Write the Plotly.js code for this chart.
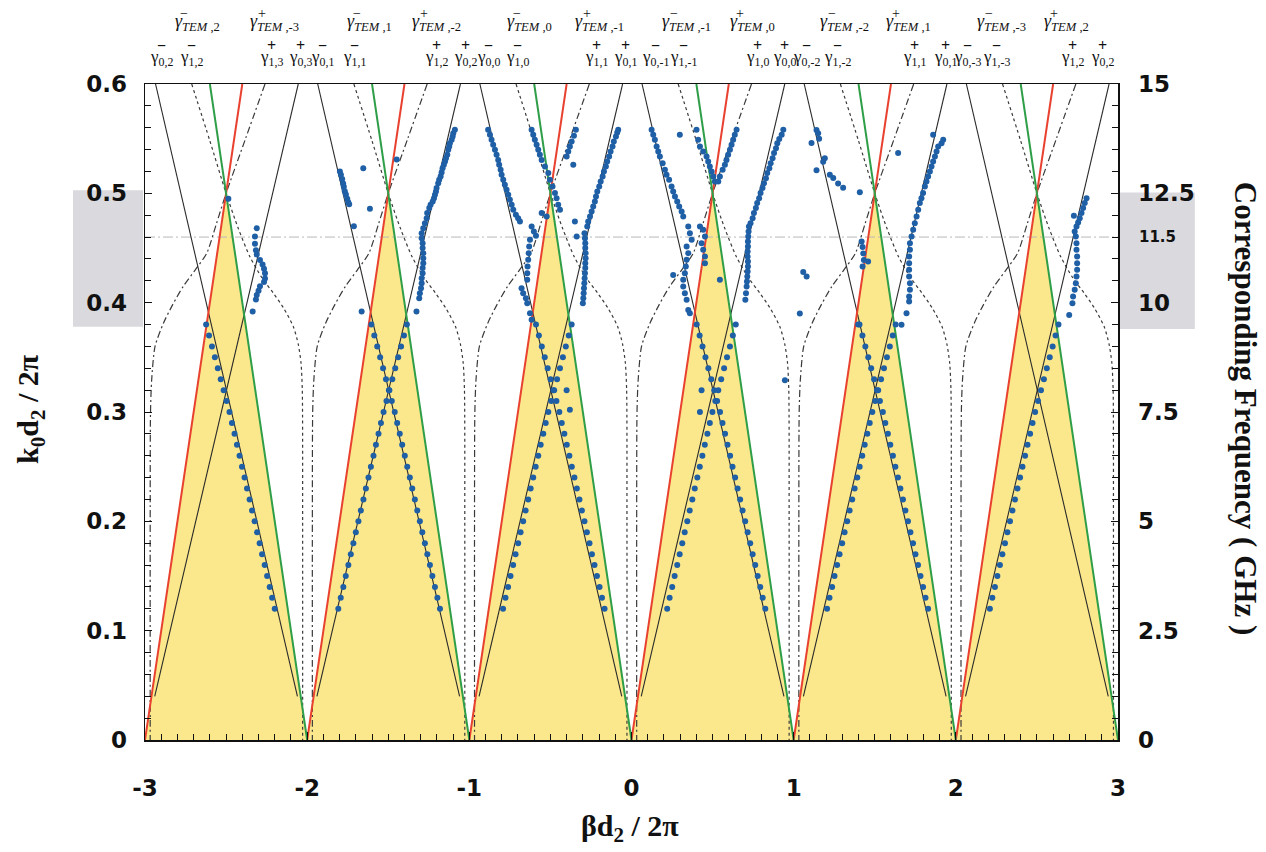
<!DOCTYPE html>
<html><head><meta charset="utf-8">
<script src="https://cdn.plot.ly/plotly-3.0.1.min.js"></script>
<style>html,body{margin:0;padding:0;background:#fff}#chart{width:1266px;height:852px}</style>
</head><body><div id="chart"></div>
<script>
// ---------------- axes / ticks ----------------
const xTicks = [-3,-2,-1,0,1,2,3];
const xTickText = ['-3','-2','-1','0','1','2','3'];
const yTicks = [0,0.1,0.2,0.3,0.4,0.5,0.6];
const yTickText = ['0','0.1','0.2','0.3','0.4','0.5','0.6'];
const fTicks = [0,2.5,5,7.5,10,12.5,15];
const fTickText = ['0','2.5','5','7.5','10','12.5','15'];
const refFreqGHz = 11.5;           // dash-dot reference level
const bandGHz = [9.45, 12.57];     // grey band on both sides

// ---------------- theoretical lines ----------------
const periodStart = [-3,-2,-1,0,1,2];        // Brillouin period starts (TEM light lines)
const bandCentres = [-2.5,-1.5,-0.5,0.5,1.5,2.5];
const lightTop = 0.6;
// gamma_0 (solid black) end points, offsets from period start
const g0Rise = {x0:0.06, y0:0.04, x1:0.945, y1:0.6};
const g0Desc = {x0:0.94, y0:0.04, x1:0.065, y1:0.6};
// gamma_1 curves (dashed), offsets from band centre
const g1DescDx = [-0.212,-0.1,0,0.075,0.147,0.22,0.29,0.355,0.415,0.445,0.462,0.470,0.472,0.472];
const g1DescY  = [0.6,0.548,0.5,0.468,0.442,0.423,0.409,0.395,0.378,0.362,0.345,0.32,0.2,0.0];
const g1RiseDx = [0.24,0.12,0,-0.06,-0.12,-0.19,-0.264,-0.33,-0.387,-0.438,-0.459,-0.466,-0.468,-0.468];
const g1RiseY  = [0.6,0.55,0.5,0.472,0.445,0.43,0.415,0.398,0.381,0.36,0.329,0.3,0.2,0.0];

// ---------------- measured points ----------------
const yLow = [0.12,0.13,0.14,0.15,0.16,0.17,0.18,0.19,0.20,0.21,0.22,0.23,0.24,0.25,0.26,0.27,0.28,0.29,0.30,0.31,0.32,0.33,0.34,0.35,0.36,0.37,0.38];
const descDx = [0.31,0.294,0.279,0.263,0.248,0.232,0.217,0.201,0.186,0.170,0.155,0.139,0.124,0.108,0.093,0.077,0.062,0.046,0.031,0.013,-0.005,-0.023,-0.041,-0.059,-0.077,-0.095,-0.113];
const riseDx = [-0.295,-0.280,-0.264,-0.249,-0.233,-0.218,-0.202,-0.187,-0.171,-0.156,-0.140,-0.125,-0.109,-0.094,-0.078,-0.063,-0.047,-0.032,-0.016,0.002,0.020,0.038,0.056,0.074,0.092,0.110,0.128];
const descCentres = [-2.5,-1.5,-0.5,0.5,1.5];
const descShift = [-0.01,0.009,0.024,0.015,0.019];
const riseCentres = [-1.5,-0.5,0.5,1.5,2.5];
const riseShift = [-0.013,0.003,0.015,0.001,0.005];

const up1X = [-2.311,-2.322,-2.322,-2.316,-2.311,-2.291,-2.275,-2.266,-2.260,-2.260,-2.266,-2.291,-2.300,-2.311,-2.316,-2.336,-2.486];
const up1Y = [0.468,0.4605,0.454,0.448,0.444,0.439,0.435,0.431,0.427,0.422,0.419,0.415,0.411,0.407,0.403,0.392,0.495];

const up2X = [-1.798,-1.792,-1.784,-1.778,-1.774,-1.768,-1.761,-1.753,-1.747,-1.741,-1.712,-1.654,-1.613,-1.448,-1.664,
  -1.294,-1.294,-1.288,-1.288,-1.284,-1.284,-1.284,-1.288,-1.288,-1.294,-1.294,-1.298,-1.305,-1.309,-1.326,
  -1.284,-1.274,-1.263,-1.260,-1.247,-1.239,-1.226,-1.218,-1.212,-1.206,-1.202,-1.192,-1.186,-1.177,-1.171,-1.165,-1.157,-1.150,-1.144,-1.136,-1.130,-1.124,-1.120,-1.109,-1.103,-1.099,-1.089];
const up2Y = [0.520,0.517,0.513,0.509,0.506,0.502,0.499,0.495,0.492,0.490,0.470,0.523,0.486,0.531,0.392,
  0.4636,0.4590,0.4544,0.4499,0.4453,0.4407,0.4361,0.4316,0.4270,0.4224,0.4178,0.4133,0.4087,0.4041,0.392,
  0.468,0.4727,0.4773,0.4819,0.4865,0.4895,0.4926,0.4956,0.4986,0.5017,0.5048,0.5093,0.5124,0.5154,0.5190,0.5230,0.5261,0.5291,0.5322,0.5352,0.5398,0.5428,0.5459,0.5489,0.5520,0.5550,0.5581];

const up3X = [-0.884,-0.873,-0.863,-0.853,-0.842,-0.832,-0.822,-0.816,-0.807,-0.801,-0.791,-0.781,-0.770,-0.760,-0.750,-0.739,-0.729,-0.713,-0.699,-0.688,
  -0.616,-0.602,-0.589,
  -0.626,-0.631,-0.634,-0.637,-0.641,-0.643,-0.643,-0.678,-0.668,-0.651,-0.643,-0.626,-0.616,
  -0.616,-0.606,-0.596,-0.585,-0.575,-0.565,-0.554,-0.534,-0.513,-0.503,-0.487,-0.472,-0.462,-0.452,-0.441,-0.554,-0.523,
  -0.343,-0.355,-0.369,-0.380,-0.390,-0.400,-0.359,-0.349,-0.338,-0.400,-0.380,
  -0.290,-0.287,-0.285,-0.285,-0.283,-0.283,-0.285,-0.285,-0.287,-0.289,-0.291,-0.293,-0.295,-0.297,-0.300,
  -0.273,-0.267,-0.256,-0.246,-0.236,-0.226,-0.219,-0.211,-0.199,-0.190,-0.178,-0.170,-0.158,-0.150,-0.138,-0.129,-0.117,-0.109,-0.096,-0.088,-0.082];
const up3Y = [0.5581,0.5535,0.5489,0.5444,0.5398,0.5352,0.5306,0.5261,0.5215,0.5169,0.5124,0.5078,0.5032,0.4986,0.4941,0.4895,0.4849,0.4803,0.4773,0.4742,
  0.4696,0.4651,0.4611,
  0.4575,0.4513,0.4453,0.4392,0.4330,0.4270,0.4209,0.4133,0.4087,0.4041,0.3995,0.3904,0.3843,
  0.5581,0.5535,0.5489,0.5444,0.5398,0.5352,0.5306,0.5245,0.5185,0.5124,0.5062,0.5002,0.4956,0.4895,0.4849,0.4819,0.4788,
  0.5581,0.5526,0.5474,0.5428,0.5382,0.5337,0.5261,0.4742,0.4605,0.320,0.302,
  0.4636,0.4590,0.4544,0.4499,0.4453,0.4407,0.4361,0.4316,0.4270,0.4224,0.4178,0.4133,0.4087,0.4041,0.3995,
  0.4696,0.4742,0.4788,0.4834,0.4879,0.4925,0.4971,0.5017,0.5062,0.5108,0.5154,0.5200,0.5245,0.5291,0.5337,0.5382,0.5428,0.5474,0.5520,0.5556,0.5581];

const up4X = [0.124,0.134,0.144,0.155,0.165,0.175,0.192,0.206,0.216,0.232,0.247,0.257,0.268,0.282,0.294,0.309,0.319,
  0.350,0.360,0.371,0.340,0.350,0.340,0.335,0.329,0.319,0.319,0.329,0.340,0.350,0.360,
  0.257,0.298,0.545,0.432,0.422,0.946,
  0.401,0.411,0.422,0.442,0.463,0.473,0.483,0.494,0.504,0.514,
  0.422,0.442,0.453,0.432,0.442,0.453,0.453,
  0.648,0.637,0.627,0.617,0.607,0.596,0.586,0.576,0.562,0.545,0.535,
  0.724,0.722,0.720,0.718,0.718,0.716,0.716,0.718,0.718,0.716,0.714,0.712,0.710,0.706,0.702,
  0.734,0.747,0.755,0.767,0.775,0.787,0.796,0.808,0.817,0.829,0.837,0.850,0.858,0.870,0.879,0.891,0.899,0.911,0.926,0.936];
const up4Y = [0.5581,0.5535,0.5489,0.5428,0.5382,0.5337,0.5276,0.5215,0.5169,0.5124,0.5062,0.5017,0.4971,0.4925,0.4879,0.4834,0.4788,
  0.4696,0.4636,0.4575,0.4513,0.4453,0.4392,0.4330,0.4270,0.4209,0.4148,0.4087,0.4026,0.3934,0.3904,
  0.4254,0.5535,0.4209,0.320,0.300,0.329,
  0.5581,0.5489,0.5428,0.5382,0.5337,0.5291,0.5245,0.5200,0.5154,0.5108,
  0.4696,0.4666,0.4605,0.4544,0.4483,0.4422,0.4361,
  0.5581,0.5535,0.5489,0.5444,0.5398,0.5352,0.5306,0.5261,0.5215,0.5154,0.5108,
  0.4696,0.4651,0.4605,0.4560,0.4514,0.4468,0.4422,0.4377,0.4331,0.4285,0.4239,0.4194,0.4148,0.4087,0.4026,
  0.4727,0.4773,0.4819,0.4865,0.4911,0.4956,0.5002,0.5048,0.5093,0.5139,0.5185,0.5230,0.5276,0.5322,0.5368,0.5413,0.5459,0.5496,0.5535,0.5581];

const up5X = [1.141,1.151,1.157,1.110,1.192,1.182,1.141,1.223,1.244,1.274,1.305,1.408,1.644,1.419,1.425,1.429,1.433,1.425,1.459,1.059,1.080,1.038,1.398,
  1.922,1.912,1.891,1.881,1.871,1.860,1.850,1.840,1.829,1.819,1.809,1.798,1.788,1.778,1.768,1.758,1.747,1.737,1.727,1.717,1.717,1.712,1.712,1.712,1.712,1.717,1.717,1.712,1.712,1.696,1.665,1.860];
const up5Y = [0.558,0.555,0.550,0.546,0.532,0.529,0.521,0.517,0.514,0.509,0.505,0.501,0.537,0.456,0.451,0.445,0.439,0.433,0.4376,0.428,0.424,0.390,0.380,
  0.5489,0.5459,0.5428,0.5382,0.5337,0.5291,0.5245,0.5200,0.5154,0.5108,0.5062,0.5002,0.4956,0.4911,0.4849,0.4788,0.4727,0.4666,0.4605,0.4544,0.4483,0.4422,0.4361,0.4300,0.4239,0.4178,0.4117,0.4056,0.4010,0.3904,0.3797,0.5535];

const up6X = [2.806,2.795,2.785,2.775,2.764,2.754,2.744,2.733,2.740,2.744,2.744,2.748,2.748,2.748,2.744,2.740,2.733,2.723,2.719,2.699,2.728];
const up6Y = [0.4956,0.4911,0.4865,0.4819,0.4773,0.4733,0.4696,0.4651,0.4605,0.4544,0.4483,0.4422,0.4361,0.4300,0.4239,0.4178,0.4117,0.4056,0.3995,0.3888,0.4794];

// ---------------- labels ----------------
const temSign  = ['−','+','−','+','−','+','−','+','−','+','−','+'];
const temIndex = ['2','-3','1','-2','0','-1','-1','0','-2','1','-3','2'];
const temLabelX = [-2.679,-2.199,-1.613,-1.2,-0.626,-0.195,0.342,0.748,1.316,1.71,2.284,2.684];
const arrowTipDx = {'−':-0.043, '+':0.068};
const arrowTipY = 0.648;

const modeSign = ['−','−','+','+','−','−','+','+','−','−','+','+','−','−','+','+','−','−','+','+','−','−','+','+'];
const modeIdx  = ['0,2','1,2','1,3','0,3','0,1','1,1','1,2','0,2','0,0','1,0','1,1','0,1','0,-1','1,-1','1,0','0,0','0,-2','1,-2','1,1','0,1','0,-3','1,-3','1,2','0,2'];
const modeX    = [-2.901,-2.716,-2.217,-2.044,-1.903,-1.711,-1.2,-1.021,-0.879,-0.70,-0.213,-0.04,0.150,0.323,0.779,0.946,1.081,1.273,1.747,1.938,2.074,2.253,2.721,2.906];

// ---------------- build traces ----------------
const yScale = 0.6/15; // normalized per GHz
let fx=[],fy=[],rx=[],ry=[],gx=[],gy=[],bx=[],by=[];
periodStart.forEach(n=>{
  fx.push(n,n+0.5,n+1,n,null); fy.push(0,0.5,0,0,null);
  rx.push(n,n+lightTop,null); ry.push(0,lightTop,null);
  gx.push(n+1,n+1-lightTop,null); gy.push(0,lightTop,null);
  bx.push(n+g0Rise.x0,n+g0Rise.x1,null,n+g0Desc.x0,n+g0Desc.x1,null);
  by.push(g0Rise.y0,g0Rise.y1,null,g0Desc.y0,g0Desc.y1,null);
});
let d1x=[],d1y=[],d2x=[],d2y=[];
bandCentres.forEach(c=>{
  g1DescDx.forEach((d,i)=>{d1x.push(c+d);d1y.push(g1DescY[i]);}); d1x.push(null); d1y.push(null);
  g1RiseDx.forEach((d,i)=>{d2x.push(c+d);d2y.push(g1RiseY[i]);}); d2x.push(null); d2y.push(null);
});
let px=[],py=[];
descCentres.forEach((c,k)=>descDx.forEach((d,i)=>{px.push(c+d+descShift[k]);py.push(yLow[i]);}));
riseCentres.forEach((c,k)=>riseDx.forEach((d,i)=>{px.push(c+d+riseShift[k]);py.push(yLow[i]);}));
[[up1X,up1Y],[up2X,up2Y],[up3X,up3Y],[up4X,up4Y],[up5X,up5Y],[up6X,up6Y]].forEach(([a,b])=>{px.push(...a);py.push(...b);});

// TEM arrows (dashed continuation of light lines beyond the frame)
let ax=[],ay=[],hx=[],hy=[],hAng=[];
temSign.forEach((s,i)=>{
  const n = periodStart[Math.floor(i/2)];
  const top = s==='−' ? n+1-lightTop : n+lightTop;
  const tip = top + arrowTipDx[s];
  ax.push(top,tip,null); ay.push(lightTop,arrowTipY,null);
  hx.push(tip); hy.push(arrowTipY-0.004); hAng.push(s==='−'?-8:12);
});

const traces = [
  {x:fx,y:fy,mode:'lines',fill:'toself',fillcolor:'#FCE88C',line:{width:0},hoverinfo:'skip'},
  {x:[-3,3.07],y:[refFreqGHz*yScale,refFreqGHz*yScale],mode:'lines',line:{color:'#b8b8b8',width:1,dash:'10px,3px,2px,3px'},cliponaxis:false},
  {x:d1x,y:d1y,mode:'lines',line:{color:'#3a3a3a',width:1.2,dash:'3px,3px',shape:'spline',smoothing:0.7}},
  {x:d2x,y:d2y,mode:'lines',line:{color:'#3a3a3a',width:1.2,dash:'7px,3px,2px,3px',shape:'spline',smoothing:0.7}},
  {x:bx,y:by,mode:'lines',line:{color:'#2a2a2a',width:1.1}},
  {x:rx,y:ry,mode:'lines',line:{color:'#E8412F',width:2}},
  {x:gx,y:gy,mode:'lines',line:{color:'#2F9E48',width:2}},
  {x:ax,y:ay,mode:'lines',line:{color:'#333',width:1,dash:'3px,3px'},cliponaxis:false},
  {x:hx,y:hy,mode:'markers',marker:{symbol:'triangle-up',size:7,color:'#222',angle:hAng},cliponaxis:false},
  {x:px,y:py,mode:'markers',marker:{color:'#1F5FA6',size:6}},
  {x:[0],y:[0],yaxis:'y2',mode:'markers',marker:{opacity:0},hoverinfo:'skip'}
];

// ---------------- annotations & shapes ----------------
const serif = 'Liberation Serif, Times New Roman, serif';
const ann = [];
const shapes = [];
temSign.forEach((s,i)=>{
  ann.push({x:temLabelX[i],y:1.094,xref:'x',yref:'paper',xanchor:'center',yanchor:'middle',showarrow:false,
    text:'<i>γ</i><sub><i>TEM</i> ,'+temIndex[i]+'</sub>',
    font:{family:serif,size:18,color:'#111'}});
  ann.push({x:temLabelX[i],y:1.094,xref:'x',yref:'paper',xanchor:'center',yanchor:'middle',showarrow:false,
    xshift:-13,yshift:9,text:s,font:{family:serif,size:14,color:'#111'}});
});
modeSign.forEach((s,i)=>{
  ann.push({x:modeX[i],y:1.040,xref:'x',yref:'paper',xanchor:'center',yanchor:'middle',showarrow:false,
    text:'γ<sub>'+modeIdx[i]+'</sub>',
    font:{family:serif,size:17,color:'#111'}});
  ann.push({x:modeX[i],y:1.040,xref:'x',yref:'paper',xanchor:'center',yanchor:'middle',showarrow:false,
    xshift:0,yshift:12,text:s,font:{family:serif,size:16,color:'#111',weight:'bold'}});
});
const titleFont = {family:serif,size:30,color:'#111',weight:'bold'};
ann.push({x:0.4985,y:-0.134,xref:'paper',yref:'paper',xanchor:'center',yanchor:'middle',showarrow:false,text:'βd<sub>2</sub> / 2π',font:titleFont});
ann.push({x:-0.118,y:0.505,xref:'paper',yref:'paper',xanchor:'center',yanchor:'middle',showarrow:false,textangle:-90,text:'k<sub>0</sub>d<sub>2</sub> / 2π',font:titleFont});
ann.push({x:1.1305,y:0.505,xref:'paper',yref:'paper',xanchor:'center',yanchor:'middle',showarrow:false,textangle:90,text:'Corresponding Frequency ( GHz )',font:{family:serif,size:31,color:'#111',weight:'bold'}});
ann.push({x:1.041,y:refFreqGHz,xref:'paper',yref:'y2',xanchor:'center',yanchor:'middle',showarrow:false,text:'11.5',font:{family:'DejaVu Sans, Arial',size:15,color:'#111',weight:'bold'}});

shapes.push({type:'rect',xref:'paper',yref:'y2',x0:-0.074,x1:-0.002,y0:bandGHz[0],y1:bandGHz[1],fillcolor:'#DADADE',line:{width:0},layer:'below'});
shapes.push({type:'rect',xref:'paper',yref:'y2',x0:1.002,x1:1.079,y0:bandGHz[0]-0.05,y1:bandGHz[1]-0.05,fillcolor:'#DADADE',line:{width:0},layer:'below'});

const tickFont = {family:'DejaVu Sans, Arial, sans-serif',size:23,color:'#111',weight:'bold'};
const layout = {
  width:1266,height:852,showlegend:false,
  paper_bgcolor:'#fff',plot_bgcolor:'rgba(0,0,0,0)',
  margin:{l:145,r:148,t:84,b:112},
  xaxis:{range:[-3,3],tickvals:xTicks,ticktext:xTickText,ticks:'inside',ticklen:8,tickcolor:'#111',showline:true,linecolor:'#111',linewidth:1.5,mirror:true,
    zeroline:false,showgrid:false,tickfont:tickFont,ticklabelstandoff:27,
    minor:{dtick:0.1,ticks:'inside',ticklen:6,tickcolor:'#111',showgrid:false}},
  yaxis:{range:[0,0.6],tickvals:yTicks,ticktext:yTickText,ticks:'inside',ticklen:7,tickcolor:'#111',showline:true,linecolor:'#111',linewidth:1.5,
    zeroline:false,showgrid:false,tickfont:tickFont,ticklabelstandoff:12,
    minor:{dtick:0.02,ticks:'inside',ticklen:6,tickcolor:'#111',showgrid:false}},
  yaxis2:{overlaying:'y',side:'right',range:[0,15],tickvals:fTicks,ticktext:fTickText,ticks:'inside',ticklen:7,tickcolor:'#111',showline:true,linecolor:'#111',linewidth:1.5,
    zeroline:false,showgrid:false,tickfont:tickFont,ticklabelstandoff:14,
    minor:{dtick:0.5,ticks:'inside',ticklen:6,tickcolor:'#111',showgrid:false}},
  annotations:ann, shapes:shapes
};
Plotly.newPlot('chart',traces,layout,{staticPlot:true});
</script></body></html>
